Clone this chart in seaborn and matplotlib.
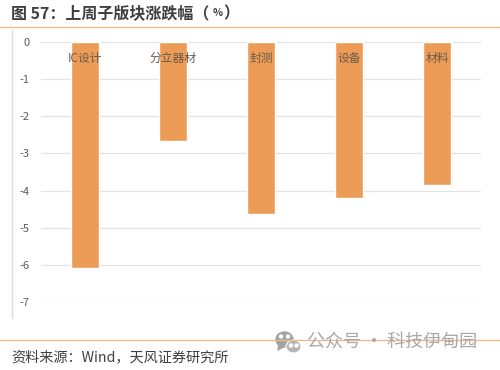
import matplotlib
matplotlib.use("Agg")
import pandas as pd
import seaborn as sns
import matplotlib.pyplot as plt
from matplotlib.lines import Line2D
from matplotlib.patches import Ellipse, Polygon

categories = ["IC设计", "分立器材", "封测", "设备", "材料"]
changes = [-6.07, -2.67, -4.63, -4.2, -3.85]
y_ticks = [0, -1, -2, -3, -4, -5, -6, -7]

title_text = "图 57：上周子版块涨跌幅（"
title_unit = "%"
title_end = "）"
source_text = "资料来源：Wind，天风证券研究所"
watermark_text = "公众号 · 科技伊甸园"

W, H = 500, 370

sns.set_theme(style="white")
plt.rcParams["font.family"] = ["Noto Sans CJK SC", "DejaVu Sans"]


def fx(px):
    return px / W


def fy(px):
    return 1 - px / H


def draw_chart(fig):
    ax = fig.add_axes([fx(41), fy(302.3), 440 / W, 260.6 / H])
    df = pd.DataFrame({"category": categories, "change": changes})
    sns.barplot(data=df, x="category", y="change", color="#ED9C57", saturation=1,
                width=0.315, ax=ax, zorder=3)

    ax.set_ylim(-7, 0)
    ax.set_xlim(-0.5, 4.5)
    ax.set_yticks(y_ticks)
    ax.set_yticklabels([str(t) for t in y_ticks], color="#595959", fontsize=8)
    ax.tick_params(axis="y", length=0, pad=8)
    ax.set_xticks([])
    ax.set_xlabel("")
    ax.set_ylabel("")
    ax.grid(axis="y", color="#E4E4E4", linewidth=0.9, zorder=0)
    ax.set_axisbelow(True)
    sns.despine(ax=ax, left=True, bottom=True, right=True, top=True)
    ax.patch.set_alpha(0)

    # category labels sit inside the bars, close to the zero line
    for i, cat in enumerate(categories):
        ax.text(i, -0.45, cat, ha="center", va="center", fontsize=8.5,
                color="#6B5A4A", zorder=5)
    return ax


def draw_frame(fig):
    rule = "#EDB98F"
    fig.add_artist(Line2D([0, 1], [fy(27), fy(27)], color=rule, linewidth=1))
    fig.add_artist(Line2D([0, 1], [fy(340), fy(340)], color=rule, linewidth=1))
    fig.add_artist(Line2D([fx(11.5), fx(11.5)], [fy(30), fy(318)], color="#DDDDDD", linewidth=1))

    fig.text(fx(11), fy(13), title_text, fontsize=11.5, fontweight="bold",
             color="#3F3F3F", ha="left", va="center")
    # the unit is set smaller than the rest of the title
    fig.text(fx(213), fy(13), title_unit, fontsize=7.5, fontweight="bold",
             color="#3F3F3F", ha="left", va="center")
    fig.text(fx(223), fy(13), title_end, fontsize=11.5, fontweight="bold",
             color="#3F3F3F", ha="left", va="center")
    fig.text(fx(11), fy(357), source_text, fontsize=10.2, color="#404040",
             ha="left", va="center")
    fig.text(fx(307), fy(342.5), watermark_text, fontsize=13, color="#A8A8A8",
             ha="left", va="center")


def draw_wechat_icon(fig):
    grey = "#A3A3A3"
    fig.add_artist(Ellipse((fx(284.5), fy(339.5)), 17 / W, 15 / H, color=grey,
                           transform=fig.transFigure))
    fig.add_artist(Polygon([[fx(279), fy(344)], [fx(278), fy(350)], [fx(285), fy(346)]],
                           color=grey, transform=fig.transFigure))
    fig.add_artist(Ellipse((fx(293.5), fy(346.5)), 15 / W, 13 / H, color="#B5B5B5",
                           ec="white", lw=0.8, transform=fig.transFigure))
    for cx, cy in [(281, 336.5), (288, 336.5), (291, 345.5), (296.5, 345.5)]:
        fig.add_artist(Ellipse((fx(cx), fy(cy)), 3 / W, 3 / H, color="white",
                               transform=fig.transFigure))


def main():
    fig = plt.figure(figsize=(W / 100, H / 100), dpi=100, facecolor="white")
    draw_chart(fig)
    draw_frame(fig)
    draw_wechat_icon(fig)
    fig.savefig("out.png", dpi=100)
    plt.close(fig)


if __name__ == "__main__":
    main()
